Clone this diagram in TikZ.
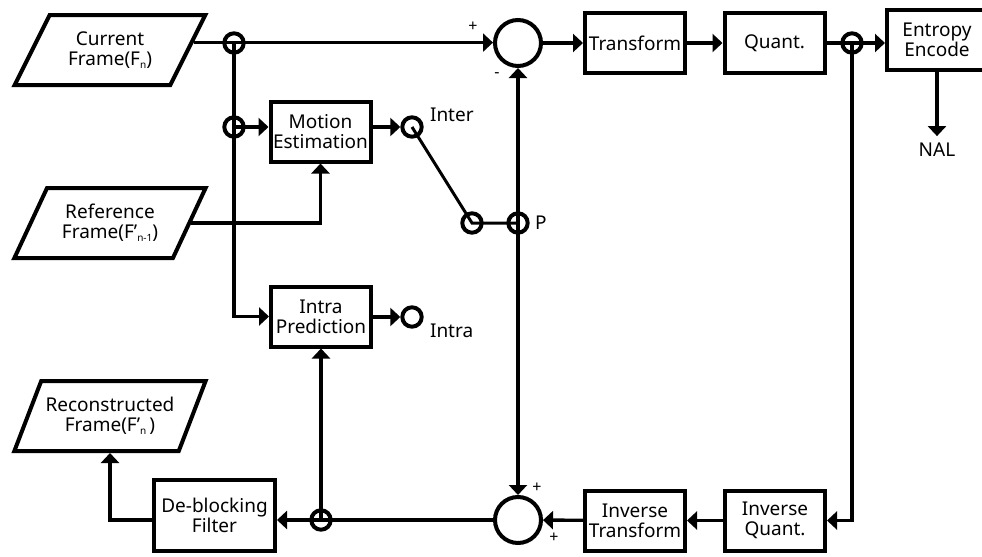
\documentclass[tikz,border=0pt]{standalone}
\usepackage{fontspec}
\setmainfont{Noto Sans}
\usetikzlibrary{arrows.meta,shapes.geometric,calc}

\newcommand{\lowsub}[1]{\raisebox{-0.3ex}{\fontsize{5}{5}\selectfont #1}}

\begin{document}
\begin{tikzpicture}[x=0.5pt, y=-0.5pt, font=\fontsize{9.5}{10}\selectfont,
    >={Triangle[length=5pt,width=9pt]},
    blk/.style={draw, line width=2pt, minimum width=50pt, minimum height=30pt, align=center, inner sep=1pt},
    iobox/.style={draw, line width=2pt, trapezium, trapezium left angle=58, trapezium right angle=122,
        trapezium stretches=true, minimum width=96pt, minimum height=35pt, align=center, inner sep=1pt},
    jdot/.style={draw, circle, line width=2pt, minimum size=9.7pt, inner sep=0pt},
    adder/.style={draw, circle, line width=2pt, minimum size=23pt, inner sep=0pt},
    wire/.style={line width=1.7pt},
    sgn/.style={font=\fontsize{8}{8}\selectfont, inner sep=0pt}]

    \useasboundingbox (0,0) rectangle (982,557);

    \node[iobox] (cur) at (110,50) {Current\\Frame(F\lowsub{n})};
    \node[iobox] (ref) at (110,223) {Reference\\Frame(F'\lowsub{n-1})};
    \node[iobox] (rec) at (110,416) {Reconstructed\\Frame(F'\lowsub{n}\,)};

    \node[jdot] (j1) at (234,43) {};
    \node[jdot] (j2) at (234,127) {};
    \node[blk] (me) at (320.5,131.5) {Motion\\Estimation};
    \node[blk] (ip) at (321,316.5) {Intra\\Prediction};
    \node[jdot] (inter) at (412,127) {};
    \node[jdot] (sw) at (472,223) {};
    \node[jdot] (p) at (518,223) {};
    \node[jdot] (intra) at (412,317) {};

    \node[adder] (sum1) at (518,43) {};
    \node[blk] (tr) at (635,43) {Transform};
    \node[blk] (q) at (774.5,43) {Quant.};
    \node[jdot] (j3) at (852,43) {};
    \node[blk] (ee) at (937,40) {Entropy\\Encode};
    \node (nal) at (937,150) {NAL};

    \node[blk] (iq) at (775,520.5) {Inverse\\Quant.};
    \node[blk] (it) at (635,520.5) {Inverse\\Transform};
    \node[adder] (sum2) at (518,520) {};
    \node[jdot] (j4) at (321,520) {};
    \node[blk, minimum width=60.5pt, minimum height=35.5pt] (db) at (214.5,515.5) {De-blocking\\Filter};

    \node[anchor=west] (inlab) at (423,115) {Inter};
    \node[anchor=west] (plab) at (528,223) {P};
    \node[anchor=west] (intlab) at (423,331) {Intra};
    \node[sgn] (s1) at (473,27) {+};
    \node[sgn] (s2) at (497,75) {-};
    \node[sgn] (s3) at (537,488) {+};
    \node[sgn] (s4) at (554,538) {+};

    \coordinate (curout) at ($(cur.top right corner)!0.4!(cur.bottom right corner)$);
    \draw[wire,->] (curout) -- (curout -| sum1.west);
    \draw[wire,->] (sum1) -- (tr);
    \draw[wire,->] (tr) -- (q);
    \draw[wire] (q) -- (j3.center);
    \draw[wire,->] (j3.center) -- (j3 -| ee.west);
    \draw[wire,->] (ee.south) -- (nal.north);

    \draw[wire,->] (j1.center) |- (ip.west);
    \draw[wire,->] (j2.center) -- (j2 -| me.west);
    \draw[wire,->] (ref.east) -| (me.south);
    \draw[wire,->] (me.east |- inter) -- (inter.west);
    \draw[wire,->] (ip.east |- intra) -- (intra.west);
    \draw[line width=1.5pt] (inter.center) -- (sw.center) -- (p.center);
    \draw[wire,->] (p.center) -- (sum1.south);
    \draw[wire,->] (p.center) -- (sum2.north);

    \draw[wire,->] (j3.center) |- (iq.east);
    \draw[wire,->] (iq) -- (it);
    \draw[wire,->] (it) -- (sum2);
    \draw[wire,->] (sum2.west) -- (sum2.west -| db.east);
    \draw[wire,->] (j4.center) -- (ip.south);
    \draw[wire,->] (db.west |- sum2) -| (rec.south);
\end{tikzpicture}
\end{document}
